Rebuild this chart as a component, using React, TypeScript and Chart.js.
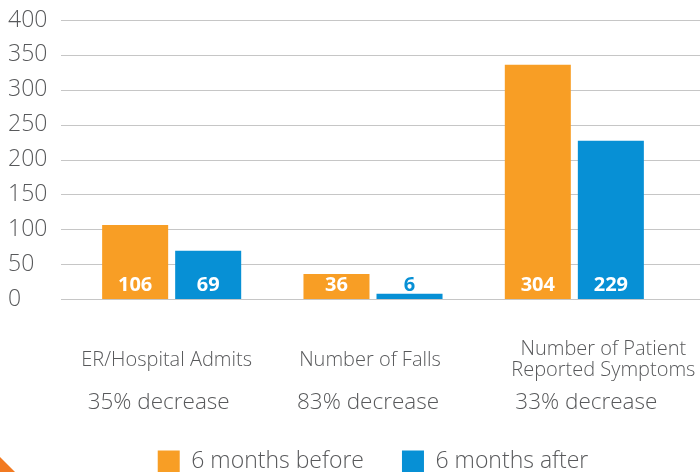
import { useEffect, useRef } from 'react';
import { Chart, registerables } from 'chart.js';

Chart.register(...registerables);

const categories = [['ER/Hospital Admits'], ['Number of Falls'], ['Number of Patient', 'Reported Symptoms']];
const changeLabels = ['35% decrease', '83% decrease', '33% decrease'];
const seriesNames = ['6 months before', '6 months after'];
const beforeValues = [106, 36, 336];
const afterValues = [69, 7.5, 227];
const beforeLabels = ['106', '36', '304'];
const afterLabels = ['69', '6', '229'];
const yMin = 0;
const yMax = 400;
const yStep = 50;

// style: small horizontal nudges of the text under each group
const CAT_NUDGE = [-5, -3, 29];
const CHANGE_NUDGE = [-13, -5, 12];

const ORANGE = '#f89e25';
const BLUE = '#0790d5';
const TEXT = '#58595b';
const GRID = '#c6c6c6';
const FONT = '"Open Sans", "DejaVu Sans", sans-serif';
const CANVAS_H = 483;

const decorPlugin = {
  id: 'decor',
  beforeDatasetsDraw(chart: any) {
    const ctx = chart.ctx;
    const y = chart.scales.y;
    ctx.save();
    ctx.strokeStyle = GRID;
    ctx.lineWidth = 1.2;
    y.ticks.forEach((t: any) => {
      const py = Math.round(y.getPixelForValue(t.value)) + 0.5;
      ctx.beginPath();
      ctx.moveTo(61, py);
      ctx.lineTo(chart.width, py);
      ctx.stroke();
    });
    ctx.restore();
  },
  afterDatasetsDraw(chart: any) {
    const ctx = chart.ctx;
    const labelSets = [beforeLabels, afterLabels];
    ctx.save();
    ctx.font = `bold 20px ${FONT}`;
    ctx.textAlign = 'center';
    ctx.textBaseline = 'middle';
    chart.data.datasets.forEach((ds: any, di: number) => {
      const meta = chart.getDatasetMeta(di);
      meta.data.forEach((el: any, i: number) => {
        const h = el.base - el.y;
        ctx.fillStyle = h > 20 ? '#ffffff' : ds.backgroundColor;
        ctx.fillText(labelSets[di][i], el.x, el.base - 13.5);
      });
    });
    ctx.restore();
  },
  afterDraw(chart: any) {
    const ctx = chart.ctx;
    const x = chart.scales.x;
    ctx.save();
    ctx.fillStyle = TEXT;
    ctx.textAlign = 'center';
    ctx.textBaseline = 'middle';
    categories.forEach((lines, i) => {
      const cx = x.getPixelForValue(i);
      ctx.font = `300 20px ${FONT}`;
      const lh = 21;
      const start = 360 - ((lines.length - 1) * lh) / 2;
      lines.forEach((ln, j) => ctx.fillText(ln, cx + CAT_NUDGE[i], start + j * lh));
      ctx.font = `300 22.5px ${FONT}`;
      ctx.fillText(changeLabels[i], cx + CHANGE_NUDGE[i], 403);
    });
    ctx.fillStyle = '#f27a21';
    ctx.beginPath();
    ctx.moveTo(0, 457);
    ctx.lineTo(15, 472);
    ctx.lineTo(0, 472);
    ctx.closePath();
    ctx.fill();
    ctx.restore();
  },
};

export default function App() {
  const ref = useRef<HTMLCanvasElement | null>(null);
  useEffect(() => {
    if (!ref.current) return;
    const chart = new Chart(ref.current, {
      type: 'bar',
      data: {
        labels: categories.map((c) => c.join(' ')),
        datasets: [
          { label: seriesNames[0], data: beforeValues, backgroundColor: ORANGE },
          { label: seriesNames[1], data: afterValues, backgroundColor: BLUE },
        ],
      },
      options: {
        animation: false,
        responsive: false,
        maintainAspectRatio: false,
        layout: { padding: { left: 8, right: 25, top: 20, bottom: 0 } },
        datasets: { bar: { categoryPercentage: 0.7255, barPercentage: 0.904 } },
        scales: {
          x: {
            grid: { display: false },
            border: { display: false },
            ticks: { display: false },
            afterFit: (s: any) => { s.height = 113; },
          },
          y: {
            min: yMin,
            max: yMax,
            grid: { display: false },
            border: { display: false },
            ticks: {
              stepSize: yStep,
              crossAlign: 'far',
              color: TEXT,
              font: { family: FONT, size: 23, weight: '300' },
            },
            afterFit: (s: any) => { s.width = 63; },
          },
        },
        plugins: {
          legend: {
            position: 'bottom',
            fullSize: false,
            labels: {
              boxWidth: 22,
              boxHeight: 22,
              padding: 38,
              color: TEXT,
              font: { family: FONT, size: 23, weight: '300' },
            },
          },
          tooltip: { enabled: false },
        },
      },
      plugins: [decorPlugin],
    } as any);
    return () => chart.destroy();
  }, []);
  return (
    <div style={{ position: 'fixed', left: 0, top: 0, width: 700, height: 472, overflow: 'hidden', background: '#fff' }}>
      <canvas ref={ref} width={700} height={CANVAS_H} style={{ display: 'block', width: 700, height: CANVAS_H }} />
    </div>
  );
}
